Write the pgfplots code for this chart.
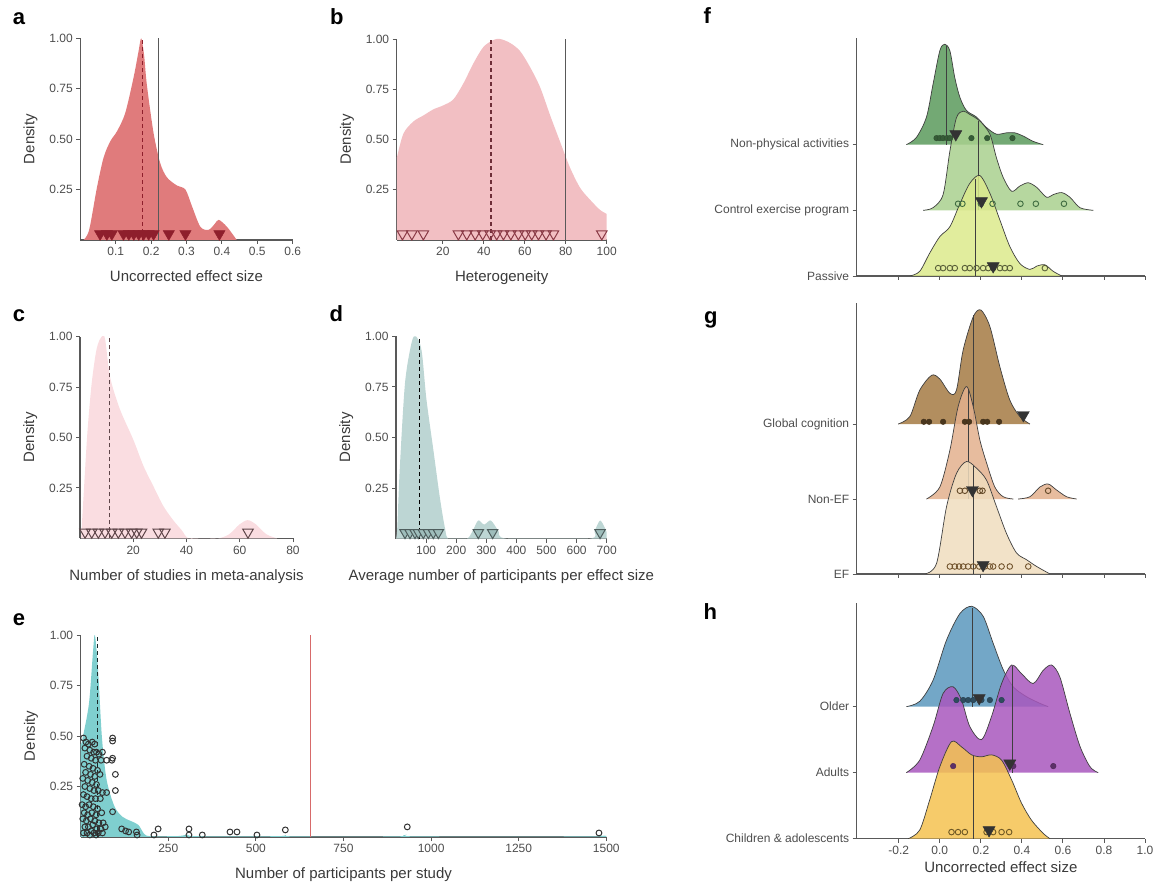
\documentclass[border=0pt]{standalone}
\usepackage{pgfplots}
\pgfplotsset{compat=1.18}
\usepackage{fontspec}
\setmainfont{Liberation Sans}

\definecolor{axgray}{HTML}{595959}
\definecolor{tickgray}{HTML}{4D4D4D}
\definecolor{labgray}{HTML}{3A3A3A}
\definecolor{aFill}{HTML}{E07B7C}
\definecolor{aTri}{HTML}{8E1F2C}
\definecolor{bFill}{HTML}{F2BFC3}
\definecolor{bTri}{HTML}{8A3A46}
\definecolor{cFill}{HTML}{FADDE1}
\definecolor{cTri}{HTML}{5E4549}
\definecolor{dFill}{HTML}{BDD6D4}
\definecolor{dTri}{HTML}{9EBDBB}
\definecolor{eFill}{HTML}{7FCFCF}
\definecolor{eRed}{HTML}{D76A6A}
\definecolor{fA}{HTML}{5A9A5C}
\definecolor{fB}{HTML}{A9D08E}
\definecolor{fC}{HTML}{DCEA8C}
\definecolor{gA}{HTML}{A57A43}
\definecolor{gB}{HTML}{E3B08D}
\definecolor{gC}{HTML}{F0DDBE}
\definecolor{hA}{HTML}{5B98BD}
\definecolor{hB}{HTML}{A857BD}
\definecolor{hC}{HTML}{F4C250}
\definecolor{ridgeline}{HTML}{3F3F3F}
\definecolor{tri}{HTML}{333333}

\pgfplotsset{
  base/.style={
    scale only axis,
    axis lines=left,
    axis line style={-, draw=axgray, line width=1.1pt},
    tick align=outside,
    major tick length=4pt,
    tick style={draw=axgray, line width=0.9pt},
    tick label style={font=\fontsize{12}{14}\selectfont, text=tickgray},
    label style={font=\fontsize{15}{18}\selectfont, text=labgray},
    /pgf/number format/assume math mode=true,
    /pgf/number format/1000 sep={},
  },
  dens/.style={base, ymin=0, ymax=1, ytick={0.25,0.5,0.75,1},
    yticklabel style={/pgf/number format/fixed, /pgf/number format/fixed zerofill, /pgf/number format/precision=2},
    ylabel={Density}, xlabel style={yshift=-8pt}, ylabel style={yshift=5pt}},
  ridge/.style={base, width=288.3pt, xmin=-0.405, xmax=1.0, ymin=1,
    xtick={-0.2,0,0.2,0.4,0.6,0.8,1.0}, ytick={1,2,3}},
  rfill/.style={smooth, fill=#1, fill opacity=0.85, draw=ridgeline, line width=0.7pt},
  rline/.style={draw=ridgeline, line width=0.9pt},
  tris/.style={only marks, mark=triangle*, mark size=7pt, mark options={rotate=180, fill=tri, draw=tri}},
}

\begin{document}
\begin{tikzpicture}
\useasboundingbox (0,0) rectangle (1156pt,883pt);

% ---- a
\begin{axis}[dens, at={(80.3pt,643pt)}, anchor=south west, width=212.4pt, height=201.7pt,
  xmin=0, xmax=0.6, xtick={0.1,0.2,0.3,0.4,0.5,0.6}, xlabel={Uncorrected effect size}]
\addplot[smooth, draw=none, fill=aFill] coordinates {
 (0.009,0) (0.025,0.05) (0.047,0.26) (0.066,0.41) (0.085,0.49) (0.104,0.54) (0.127,0.63)
 (0.151,0.81) (0.165,0.94) (0.172,1.0) (0.18,0.92) (0.188,0.77) (0.207,0.53) (0.226,0.38)
 (0.245,0.31) (0.273,0.27) (0.297,0.25) (0.316,0.165) (0.339,0.066) (0.362,0.05) (0.38,0.08)
 (0.391,0.1) (0.414,0.066) (0.442,0.0)} \closedcycle;
\addplot[draw=aTri, line width=1.4pt, dash pattern=on 4pt off 3pt] coordinates {(0.176,0) (0.176,1)};
\addplot[draw=axgray, line width=1.2pt] coordinates {(0.22,0) (0.22,1)};
\addplot[only marks, mark=triangle*, mark size=6.5pt, mark options={rotate=180, fill=aTri, draw=aTri}] coordinates {
 (0.056,0.03) (0.075,0.03) (0.089,0.03) (0.122,0.03) (0.137,0.03) (0.151,0.03) (0.165,0.03)
 (0.179,0.03) (0.193,0.03) (0.207,0.03) (0.25,0.03) (0.297,0.03) (0.393,0.03)};
\end{axis}

% ---- b
\begin{axis}[dens, at={(396.7pt,643pt)}, anchor=south west, width=210pt, height=201pt,
  xmin=-2.5, xmax=100, xtick={20,40,60,80,100}, xlabel={Heterogeneity}]
\addplot[smooth, draw=none, fill=bFill] coordinates {
 (-2.4,0.41) (0.8,0.53) (5.7,0.59) (10.6,0.62) (15.4,0.65) (20.3,0.67) (25.2,0.70) (30.1,0.78)
 (35,0.88) (39.8,0.96) (44.7,0.995) (48,1.0) (52.9,0.98) (57.7,0.94) (62.6,0.86) (67.5,0.76)
 (72.4,0.62) (77.2,0.49) (82.1,0.36) (87,0.26) (91.9,0.2) (96.7,0.15) (100,0.13)} \closedcycle;
\addplot[draw=bTri!80!black, line width=1.4pt, dash pattern=on 4pt off 3pt] coordinates {(43.6,0) (43.6,1)};
\addplot[draw=axgray, line width=1.2pt] coordinates {(79.7,0) (79.7,1)};
\addplot[only marks, mark=triangle, mark size=6pt, mark options={rotate=180, draw=bTri, line width=1pt}] coordinates {
 (0.3,0.03) (4.9,0.03) (10.5,0.03) (27.6,0.03) (31.7,0.03) (35.8,0.03) (39.5,0.03) (43.1,0.03)
 (46.3,0.03) (49.6,0.03) (53.2,0.03) (56.9,0.03) (60.2,0.03) (63.4,0.03) (66.7,0.03) (70.4,0.03)
 (74,0.03) (97.6,0.03)};
\end{axis}

% ---- c
\begin{axis}[dens, at={(80pt,344.7pt)}, anchor=south west, width=213pt, height=201.6pt,
  xmin=0, xmax=80, xtick={20,40,60,80}, xlabel={Number of studies in meta-analysis}]
\addplot[smooth, draw=none, fill=cFill] coordinates {
 (0.4,0) (1.25,0.19) (2.75,0.52) (4.4,0.77) (6.25,0.94) (8.1,1.0) (9.4,0.99) (11.3,0.8)
 (15,0.64) (20,0.49) (23.8,0.36) (27.5,0.26) (31.3,0.16) (35,0.09) (38.2,0.04) (40.7,0.0)
 (46,0) (52,0.0) (56,0.02) (60,0.07) (63,0.09) (66,0.07) (70,0.02) (74,0.0)} \closedcycle;
\addplot[draw=cTri, line width=1.4pt, dash pattern=on 4pt off 3pt] coordinates {(11,0) (11,1)};
\addplot[only marks, mark=triangle, mark size=6pt, mark options={rotate=180, draw=cTri, line width=1pt}] coordinates {
 (1.9,0.03) (4.4,0.03) (6.9,0.03) (9.4,0.03) (11.9,0.03) (14.4,0.03) (16.9,0.03) (19.4,0.03)
 (21.3,0.03) (23.1,0.03) (29.4,0.03) (31.9,0.03) (63.1,0.03)};
\end{axis}

% ---- d
\begin{axis}[dens, at={(396pt,344.3pt)}, anchor=south west, width=210.7pt, height=202.4pt,
  xmin=0, xmax=700, xtick={100,200,300,400,500,600,700}, xlabel={Average number of participants per effect size}]
\addplot[smooth, draw=none, fill=dFill] coordinates {
 (0,0) (4,0.05) (13,0.36) (30,0.77) (52,0.97) (66,1.0) (85,0.93) (101,0.69) (124,0.44)
 (146,0.2) (163,0.05) (175,0) (235,0) (255,0.04) (273,0.09) (293,0.07) (315,0.09) (340,0.04)
 (370,0) (640,0) (660,0.04) (678,0.09) (695,0.05) (700,0.03)} \closedcycle;
\addplot[draw=black, line width=1.4pt, dash pattern=on 4pt off 3pt] coordinates {(77.5,0) (77.5,1)};
\addplot[only marks, mark=triangle*, mark size=6pt, mark options={rotate=180, fill=dTri, draw=dTri!50!black, line width=1pt}] coordinates {
 (29.9,0.03) (46.5,0.03) (63.1,0.03) (74.2,0.03) (90.8,0.03) (107.5,0.03) (124,0.03) (140.6,0.03)
 (273.5,0.03) (321,0.03) (677.9,0.03)};
\end{axis}

% ---- e
\begin{axis}[dens, at={(80.7pt,46pt)}, anchor=south west, width=525.6pt, height=202pt,
  xmin=0, xmax=1500, xtick={250,500,750,1000,1250,1500}, xlabel={Number of participants per study}]
\addplot[smooth, draw=none, fill=eFill] coordinates {
 (0,0.46) (4.3,0.48) (23.5,0.66) (34.8,0.91) (40.5,1.0) (49.4,0.83) (60.7,0.49) (74.3,0.28)
 (96.8,0.15) (119.4,0.10) (141.9,0.08) (164.5,0.06) (181.4,0.015) (200,0.004) (280,0.005)
 (305,0.012) (330,0.004) (560,0.004) (585,0.01) (610,0.003) (900,0.003) (930,0.012) (960,0.003)
 (1460,0.003) (1480,0.01) (1500,0.005)} \closedcycle;
\addplot[draw=black!80!eFill, line width=1.4pt, dash pattern=on 4pt off 3pt] coordinates {(48.3,0) (48.3,1)};
\addplot[draw=eRed, line width=1.1pt] coordinates {(655,0) (655,1)};
\addplot[only marks, mark=o, mark size=2.9pt, mark options={draw=black!80, line width=1pt}] coordinates {
 (8,0.49) (15,0.47) (22,0.46) (33,0.47) (40,0.46) (12,0.44) (26,0.43) (37,0.42) (45,0.42)
 (52,0.41) (18,0.40) (30,0.39) (42,0.38) (58,0.38) (10,0.36) (24,0.35) (35,0.34) (48,0.33)
 (14,0.32) (28,0.31) (40,0.30) (55,0.31) (6,0.29) (20,0.28) (33,0.27) (45,0.26) (12,0.25)
 (26,0.24) (38,0.23) (50,0.23) (62,0.22) (8,0.21) (18,0.20) (30,0.19) (42,0.19) (56,0.19)
 (4,0.16) (14,0.15) (24,0.16) (36,0.15) (48,0.14) (10,0.12) (20,0.11) (32,0.12) (44,0.11)
 (60,0.12) (6,0.09) (16,0.08) (28,0.09) (40,0.08) (52,0.07) (64,0.07) (12,0.05) (22,0.05)
 (34,0.06) (46,0.04) (58,0.04) (8,0.02) (18,0.02) (30,0.03) (38,0.02) (50,0.02) (26,0.01)
 (44,0.01) (62,0.02) (70,0.05)
 (91,0.49) (91,0.475) (91,0.39) (89,0.38) (99,0.31) (99,0.23) (91,0.125) (74,0.22) (74,0.38)
 (62,0.42) (117,0.04) (128,0.03) (137,0.025) (159,0.025) (161,0.01) (209,0.01) (221,0.04)
 (309,0.04) (309,0.01) (347,0.01) (426,0.025) (446,0.025) (503,0.01) (584,0.035) (932,0.05)
 (1479,0.02)};
\end{axis}

% ---- f
\begin{axis}[ridge, at={(856.7pt,607pt)}, anchor=south west, height=237.7pt, ymax=4.62,
  xticklabels={}, yticklabels={Passive,Control exercise program,Non-physical activities}]
\addplot[rfill=fA] coordinates {
 (-0.163,3) (-0.114,3.11) (-0.065,3.42) (-0.033,3.92) (0.0,4.43) (0.024,4.53) (0.049,4.43)
 (0.073,4.02) (0.098,3.72) (0.13,3.52) (0.179,3.42) (0.228,3.26) (0.276,3.16) (0.325,3.18)
 (0.366,3.18) (0.407,3.13) (0.455,3.05) (0.504,3.0)};
\addplot[rline] coordinates {(0.033,3) (0.033,4.5)};
\addplot[only marks, mark=*, mark size=2.8pt, mark options={fill=fA!60!black, draw=fA!50!black}] coordinates {
 (-0.016,3.1) (0.0,3.1) (0.016,3.1) (0.035,3.1) (0.05,3.1) (0.154,3.1) (0.231,3.1) (0.354,3.1)};
\addplot[rfill=fB] coordinates {
 (-0.081,2) (-0.033,2.04) (0.016,2.24) (0.049,2.9) (0.081,3.41) (0.114,3.51) (0.146,3.46)
 (0.195,3.36) (0.244,3.16) (0.276,2.8) (0.309,2.5) (0.35,2.29) (0.39,2.37) (0.431,2.42)
 (0.472,2.35) (0.52,2.2) (0.553,2.24) (0.594,2.27) (0.634,2.2) (0.683,2.04) (0.748,2.0)};
\addplot[rline] coordinates {(0.19,2) (0.19,3.36)};
\addplot[only marks, mark=o, mark size=2.8pt, mark options={draw=fA!70!black, line width=0.9pt}] coordinates {
 (0.089,2.1) (0.11,2.1) (0.2,2.1) (0.257,2.1) (0.393,2.1) (0.468,2.1) (0.605,2.1)};
\addplot[rfill=fC] coordinates {
 (-0.146,1) (-0.098,1.07) (-0.049,1.35) (0.0,1.6) (0.049,1.75) (0.098,2.1) (0.146,2.41)
 (0.195,2.53) (0.244,2.26) (0.293,1.85) (0.341,1.45) (0.39,1.19) (0.439,1.1) (0.472,1.15)
 (0.512,1.17) (0.553,1.07) (0.594,1.0)};
\addplot[rline] coordinates {(0.175,1) (0.175,2.48)};
\addplot[only marks, mark=o, mark size=2.8pt, mark options={draw=fC!40!black, line width=0.9pt}] coordinates {
 (-0.008,1.12) (0.016,1.12) (0.049,1.12) (0.073,1.12) (0.122,1.12) (0.146,1.12) (0.179,1.12)
 (0.211,1.12) (0.236,1.12) (0.26,1.12) (0.293,1.12) (0.317,1.12) (0.341,1.12) (0.512,1.12)};
\addplot[tris] coordinates {(0.078,3.16) (0.203,2.14) (0.26,1.15)};
\end{axis}

% ---- g
\begin{axis}[ridge, at={(856.7pt,309pt)}, anchor=south west, height=270.7pt, ymax=4.61,
  xticklabels={}, yticklabels={EF,Non-EF,Global cognition}]
\addplot[rfill=gA] coordinates {
 (-0.203,3) (-0.146,3.1) (-0.098,3.45) (-0.04,3.65) (0.0,3.6) (0.049,3.41) (0.081,3.45)
 (0.114,3.99) (0.163,4.43) (0.2,4.52) (0.244,4.3) (0.293,3.76) (0.341,3.32) (0.39,3.1) (0.439,3.0)};
\addplot[rline] coordinates {(0.166,3) (0.166,4.45)};
\addplot[only marks, mark=*, mark size=2.8pt, mark options={fill=gA!45!black, draw=gA!40!black}] coordinates {
 (-0.078,3.03) (-0.052,3.03) (0.016,3.03) (0.122,3.03) (0.143,3.03) (0.211,3.03) (0.231,3.03) (0.289,3.03)};
\addplot[rfill=gB] coordinates {
 (-0.065,2) (0.0,2.16) (0.049,2.65) (0.089,3.23) (0.13,3.5) (0.163,3.23) (0.195,2.79)
 (0.228,2.48) (0.268,2.16) (0.309,2.03) (0.358,2.0)};
\addplot[rfill=gB] coordinates {
 (0.382,2) (0.439,2.03) (0.488,2.16) (0.528,2.2) (0.569,2.12) (0.618,2.03) (0.667,2.0)};
\addplot[rline] coordinates {(0.14,2) (0.14,3.45)};
\addplot[only marks, mark=o, mark size=2.8pt, mark options={draw=gA!60!black, line width=0.9pt}] coordinates {
 (0.098,2.11) (0.122,2.11) (0.195,2.11) (0.208,2.11) (0.528,2.11)};
\addplot[rfill=gC] coordinates {
 (-0.073,1) (-0.016,1.14) (0.033,1.9) (0.081,2.34) (0.13,2.5) (0.179,2.41) (0.228,2.25)
 (0.276,1.9) (0.325,1.54) (0.374,1.28) (0.423,1.19) (0.472,1.1) (0.537,1.0)};
\addplot[rline] coordinates {(0.166,1) (0.166,2.44)};
\addplot[only marks, mark=o, mark size=2.8pt, mark options={draw=gA!70!black, line width=0.9pt}] coordinates {
 (0.049,1.1) (0.073,1.1) (0.094,1.1) (0.114,1.1) (0.138,1.1) (0.163,1.1) (0.192,1.1)
 (0.219,1.1) (0.244,1.1) (0.26,1.1) (0.301,1.1) (0.341,1.1) (0.431,1.1)};
\addplot[tris] coordinates {(0.407,3.12) (0.159,2.12) (0.211,1.12)};
\end{axis}

% ---- h
\begin{axis}[ridge, at={(856.7pt,44.3pt)}, anchor=south west, height=235.7pt, ymax=4.57,
  xticklabel style={/pgf/number format/fixed, /pgf/number format/fixed zerofill, /pgf/number format/precision=1},
  yticklabels={Children \& adolescents,Adults,Older}, xlabel={Uncorrected effect size}]
\addplot[rfill=hA] coordinates {
 (-0.163,3) (-0.098,3.08) (-0.033,3.4) (0.033,4.01) (0.098,4.41) (0.155,4.52) (0.211,4.37)
 (0.26,3.96) (0.309,3.56) (0.358,3.3) (0.423,3.15) (0.488,3.05) (0.528,3.0)};
\addplot[rline] coordinates {(0.159,3) (0.159,4.5)};
\addplot[only marks, mark=*, mark size=2.8pt, mark options={fill=hA!50!black, draw=hA!40!black}] coordinates {
 (0.081,3.1) (0.114,3.1) (0.138,3.1) (0.163,3.1) (0.203,3.1) (0.244,3.1) (0.301,3.1)};
\addplot[rfill=hB] coordinates {
 (-0.163,2) (-0.098,2.19) (-0.033,2.7) (0.016,3.2) (0.065,3.3) (0.106,3.1) (0.146,2.7)
 (0.203,2.5) (0.252,2.85) (0.301,3.35) (0.35,3.63) (0.398,3.5) (0.455,3.35) (0.504,3.55)
 (0.545,3.63) (0.585,3.45) (0.634,2.9) (0.683,2.4) (0.732,2.09) (0.772,2.0)};
\addplot[rline] coordinates {(0.354,2) (0.354,3.62)};
\addplot[only marks, mark=*, mark size=2.8pt, mark options={fill=hB!55!black, draw=hB!45!black}] coordinates {
 (0.065,2.1) (0.358,2.1) (0.553,2.1)};
\addplot[rfill=hC] coordinates {
 (-0.154,1) (-0.098,1.13) (-0.049,1.59) (0.0,2.09) (0.057,2.47) (0.106,2.39) (0.155,2.27)
 (0.203,2.24) (0.252,2.27) (0.301,2.19) (0.35,1.89) (0.398,1.54) (0.447,1.28) (0.504,1.08) (0.537,1.0)};
\addplot[rline] coordinates {(0.166,1) (0.166,2.26)};
\addplot[only marks, mark=o, mark size=2.8pt, mark options={draw=hC!45!black, line width=0.9pt}] coordinates {
 (0.057,1.1) (0.089,1.1) (0.122,1.1) (0.228,1.1) (0.26,1.1) (0.301,1.1) (0.338,1.1)};
\addplot[tris] coordinates {(0.192,3.13) (0.341,2.14) (0.24,1.13)};
\end{axis}

% panel letters
\begin{scope}[every node/.style={anchor=base west, font=\bfseries\fontsize{22}{22}\selectfont, inner sep=0pt}]
\node at (12.7pt,858pt) {a};
\node at (330pt,858pt) {b};
\node at (12.7pt,561.3pt) {c};
\node at (329.3pt,561.3pt) {d};
\node at (12.7pt,257pt) {e};
\node at (703.3pt,859.7pt) {f};
\node at (704pt,559.7pt) {g};
\node at (703.3pt,263pt) {h};
\end{scope}
\end{tikzpicture}
\end{document}
